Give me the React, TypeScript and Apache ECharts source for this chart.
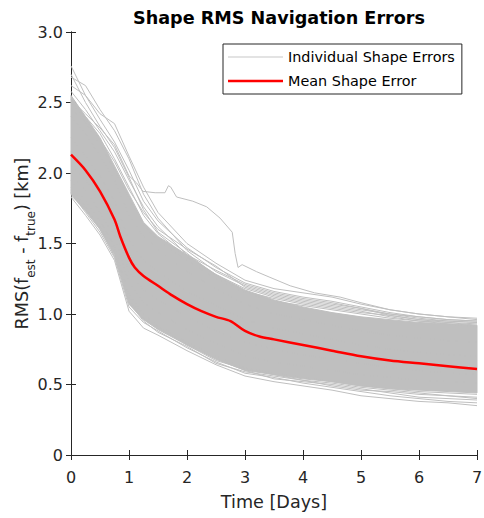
import { useEffect, useRef } from 'react';
import * as echarts from 'echarts';

// ---- data ----
const T = [0, 0.25, 0.5, 0.75, 1, 1.25, 1.5, 2, 2.5, 3, 3.5, 4, 4.5, 5, 5.5, 6, 6.5, 7];

// dense core of the individual shape error curves
const CORE_TOP = [2.55, 2.40, 2.25, 2.05, 1.85, 1.65, 1.55, 1.42, 1.28, 1.17, 1.10, 1.05, 1.01, 0.98, 0.96, 0.94, 0.93, 0.92];
const CORE_BOTTOM = [1.85, 1.73, 1.60, 1.42, 1.07, 0.96, 0.89, 0.78, 0.68, 0.60, 0.57, 0.54, 0.52, 0.49, 0.47, 0.46, 0.45, 0.44];

// individual shape error curves (sampled at T)
const SHAPE_LINES = [
  [2.76, 2.55, 2.38, 2.22, 2.02, 1.80, 1.66, 1.47, 1.33, 1.22, 1.16, 1.12, 1.09, 1.05, 1.01, 0.98, 0.96, 0.95],
  [2.68, 2.62, 2.45, 2.30, 2.10, 1.85, 1.68, 1.45, 1.30, 1.20, 1.14, 1.10, 1.07, 1.04, 1.00, 0.97, 0.95, 0.94],
  [2.62, 2.55, 2.42, 2.35, 2.12, 1.90, 1.72, 1.50, 1.36, 1.24, 1.18, 1.15, 1.12, 1.07, 1.03, 1.00, 0.98, 0.97],
  [2.58, 2.45, 2.30, 2.15, 1.95, 1.76, 1.62, 1.42, 1.31, 1.21, 1.15, 1.11, 1.08, 1.04, 0.99, 0.96, 0.94, 0.93],
  [2.52, 2.40, 2.28, 2.10, 1.90, 1.70, 1.57, 1.40, 1.28, 1.18, 1.12, 1.08, 1.05, 1.02, 0.98, 0.95, 0.93, 0.91],
  [2.45, 2.36, 2.20, 2.02, 1.82, 1.63, 1.52, 1.38, 1.25, 1.15, 1.09, 1.06, 1.03, 1.00, 0.97, 0.95, 0.94, 0.92],
  [2.40, 2.28, 2.12, 1.95, 1.70, 1.55, 1.46, 1.30, 1.18, 1.07, 1.00, 0.96, 0.92, 0.88, 0.85, 0.83, 0.81, 0.80],
  [2.25, 2.12, 1.98, 1.80, 1.52, 1.38, 1.30, 1.16, 1.06, 0.96, 0.90, 0.86, 0.82, 0.78, 0.75, 0.73, 0.71, 0.70],
  [2.15, 2.04, 1.90, 1.72, 1.42, 1.28, 1.21, 1.08, 0.98, 0.88, 0.82, 0.78, 0.74, 0.71, 0.68, 0.66, 0.64, 0.63],
  [2.05, 1.95, 1.82, 1.62, 1.30, 1.17, 1.10, 0.98, 0.88, 0.80, 0.75, 0.71, 0.68, 0.65, 0.62, 0.60, 0.58, 0.57],
  [1.98, 1.88, 1.72, 1.55, 1.22, 1.08, 1.01, 0.89, 0.79, 0.70, 0.66, 0.63, 0.60, 0.57, 0.55, 0.53, 0.52, 0.51],
  [1.95, 1.80, 1.66, 1.48, 1.12, 0.99, 0.92, 0.80, 0.70, 0.62, 0.58, 0.55, 0.52, 0.49, 0.47, 0.45, 0.44, 0.43],
  [1.90, 1.76, 1.60, 1.41, 1.08, 0.95, 0.87, 0.77, 0.65, 0.59, 0.56, 0.53, 0.49, 0.46, 0.45, 0.43, 0.42, 0.41],
  [1.84, 1.74, 1.62, 1.45, 1.10, 0.97, 0.90, 0.79, 0.68, 0.60, 0.54, 0.52, 0.50, 0.47, 0.44, 0.41, 0.40, 0.39],
  [1.86, 1.72, 1.58, 1.40, 1.05, 0.94, 0.88, 0.76, 0.66, 0.58, 0.55, 0.51, 0.48, 0.45, 0.42, 0.40, 0.38, 0.37],
  [1.83, 1.70, 1.56, 1.38, 1.02, 0.90, 0.85, 0.74, 0.64, 0.56, 0.52, 0.49, 0.46, 0.42, 0.40, 0.38, 0.37, 0.35],
  [2.50, 2.38, 2.24, 2.08, 1.88, 1.72, 1.60, 1.46, 1.34, 1.19, 1.13, 1.09, 1.06, 1.03, 1.00, 0.98, 0.96, 0.95],
  [2.70, 2.50, 2.33, 2.18, 1.97, 1.74, 1.58, 1.43, 1.27, 1.16, 1.11, 1.07, 1.04, 1.01, 0.99, 0.96, 0.95, 0.94],
  [1.88, 1.75, 1.61, 1.46, 1.14, 1.00, 0.91, 0.78, 0.67, 0.61, 0.57, 0.53, 0.51, 0.48, 0.46, 0.44, 0.42, 0.40],
];

// the one curve that stays high until day ~2.8
const OUTLIER_T = [0, 0.25, 0.5, 0.75, 1.0, 1.13, 1.24, 1.45, 1.62, 1.68, 1.72, 1.82, 2.1, 2.34, 2.57, 2.78, 2.83, 2.88, 2.95, 3.2, 3.43, 3.78, 4.2, 4.64, 5, 5.5, 6, 6.5, 7];
const OUTLIER_V = [2.52, 2.42, 2.32, 2.20, 1.98, 1.93, 1.87, 1.86, 1.86, 1.91, 1.90, 1.83, 1.80, 1.76, 1.68, 1.58, 1.43, 1.33, 1.35, 1.30, 1.26, 1.20, 1.15, 1.12, 1.08, 1.03, 1.00, 0.98, 0.96];

// mean shape error
const MEAN_T = [0, 0.25, 0.5, 0.75, 0.85, 1.0, 1.1, 1.25, 1.5, 1.75, 2.0, 2.25, 2.5, 2.75, 3.0, 3.25, 3.5, 4.0, 4.5, 5.0, 5.5, 6.0, 6.5, 7.0];
const MEAN_V = [2.13, 2.02, 1.87, 1.67, 1.55, 1.40, 1.33, 1.27, 1.20, 1.13, 1.07, 1.02, 0.98, 0.95, 0.88, 0.84, 0.82, 0.78, 0.74, 0.70, 0.67, 0.65, 0.63, 0.61];

const X_TICK_LABELS = ['0', '1', '2', '3', '4', '5', '6', '7'];
const Y_TICK_LABELS = ['0', '0.5', '1.0', '1.5', '2.0', '2.5', '3.0'];

const GREY = '#bfbfbf';
const RED = '#ff0000';
const AXIS = '#262626';
const FONT = 'DejaVu Sans';

export default function App() {
  const ref = useRef<HTMLDivElement>(null);

  useEffect(() => {
    if (!ref.current) return;
    const chart = echarts.init(ref.current, undefined, { renderer: 'svg' });

    const axisCommon = {
      axisLine: { show: true, lineStyle: { color: AXIS, width: 1 } },
      axisTick: { show: true, inside: true, length: 5, lineStyle: { color: AXIS } },
      splitLine: { show: false },
    };

    const series: any[] = [];
    series.push({
      type: 'custom',
      name: 'core',
      silent: true,
      z: 1,
      data: T.map((t, i) => [t, CORE_TOP[i]]),
      renderItem: (params: any, api: any) => {
        if (params.dataIndex !== 0) return null;
        const pts: number[][] = [];
        for (let i = 0; i < T.length; i++) pts.push(api.coord([T[i], CORE_TOP[i]]));
        for (let i = T.length - 1; i >= 0; i--) pts.push(api.coord([T[i], CORE_BOTTOM[i]]));
        return {
          type: 'polygon',
          shape: { points: pts },
          style: { fill: GREY, stroke: GREY, lineWidth: 1 },
        };
      },
    });
    SHAPE_LINES.forEach((line) => {
      series.push({
        type: 'line',
        name: 'Individual Shape Errors',
        data: T.map((t, i) => [t, line[i]]),
        symbol: 'none',
        silent: true,
        z: 2,
        lineStyle: { color: GREY, width: 1 },
        itemStyle: { color: GREY },
      });
    });
    series.push({
      type: 'line',
      name: 'Individual Shape Errors',
      data: OUTLIER_T.map((t, i) => [t, OUTLIER_V[i]]),
      symbol: 'none',
      silent: true,
      z: 2,
      lineStyle: { color: GREY, width: 1 },
      itemStyle: { color: GREY },
    });
    series.push({
      type: 'line',
      name: 'Mean Shape Error',
      data: MEAN_T.map((t, i) => [t, MEAN_V[i]]),
      symbol: 'none',
      smooth: 0.3,
      silent: true,
      z: 5,
      lineStyle: { color: RED, width: 2.5 },
      itemStyle: { color: RED },
    });

    chart.setOption({
      animation: false,
      backgroundColor: '#ffffff',
      title: {
        text: 'Shape RMS Navigation Errors',
        left: 274,
        textAlign: 'center',
        top: 4,
        textStyle: { fontFamily: FONT, fontSize: 17.6, fontWeight: 'bold', color: '#000000' },
      },
      grid: { left: 71, right: 7, top: 32, bottom: 63, containLabel: false, outerBoundsMode: 'none' },
      legend: {
        show: true,
        orient: 'vertical',
        left: 223,
        top: 44,
        padding: [5, 7, 5, 5],
        itemGap: 8,
        itemWidth: 55,
        itemHeight: 3,
        itemTextGap: 5,
        selectedMode: false,
        backgroundColor: '#ffffff',
        borderColor: AXIS,
        borderWidth: 1,
        borderRadius: 0,
        textStyle: { fontFamily: FONT, fontSize: 14.4, color: '#000000', lineHeight: 16 },
        data: [
          { name: 'Individual Shape Errors', icon: 'path://M0,0H55V1H0Z', itemStyle: { color: '#c8c8c8' } },
          { name: 'Mean Shape Error', icon: 'path://M0,0H55V2.5H0Z', itemStyle: { color: RED } },
        ],
      },
      xAxis: [
        {
          type: 'value',
          min: 0,
          max: 7,
          interval: 1,
          name: 'Time [Days]',
          nameLocation: 'middle',
          nameGap: 38,
          nameMoveOverlap: false,
          nameTextStyle: { fontFamily: FONT, fontSize: 17.6, color: AXIS },
          axisLabel: {
            fontFamily: FONT,
            fontSize: 16,
            color: AXIS,
            margin: 14,
            formatter: (v: number) => X_TICK_LABELS[Math.round(v)] ?? String(v),
          },
          ...axisCommon,
        },
        {
          type: 'value',
          position: 'top',
          min: 0,
          max: 7,
          interval: 1,
          axisLabel: { show: false },
          ...axisCommon,
        },
      ],
      yAxis: [
        {
          type: 'value',
          min: 0,
          max: 3,
          interval: 0.5,
          name: '{a|RMS(f}{s|est}{a| - f}{s|true}{a|) [km]}',
          nameLocation: 'middle',
          nameRotate: 90,
          nameGap: 34,
          nameMoveOverlap: false,
          nameTextStyle: {
            fontFamily: FONT,
            color: AXIS,
            rich: {
              a: { fontFamily: FONT, fontSize: 17.6, color: AXIS, lineHeight: 20, verticalAlign: 'top' },
              s: { fontFamily: FONT, fontSize: 12, color: AXIS, lineHeight: 24, verticalAlign: 'bottom' },
            },
          },
          axisLabel: {
            fontFamily: FONT,
            fontSize: 16,
            color: AXIS,
            margin: 8,
            formatter: (v: number) => Y_TICK_LABELS[Math.round(v / 0.5)] ?? String(v),
          },
          ...axisCommon,
        },
        {
          type: 'value',
          position: 'right',
          min: 0,
          max: 3,
          interval: 0.5,
          axisLabel: { show: false },
          ...axisCommon,
        },
      ],
      tooltip: { show: false },
      series,
    });

    return () => {
      chart.dispose();
    };
  }, []);

  return (
    <div
      ref={ref}
      style={{ position: 'absolute', left: 0, top: 0, width: 484, height: 518, background: '#fff' }}
    />
  );
}
